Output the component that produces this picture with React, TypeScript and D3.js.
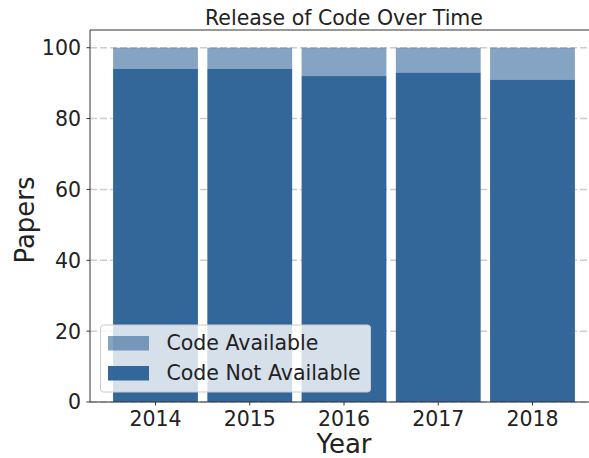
import React, { useRef, useEffect } from 'react';
import * as d3 from 'd3';

const years = ['2014', '2015', '2016', '2017', '2018'];
const codeNotAvailable = [94, 94, 92, 93, 91];
const codeAvailable = [6, 6, 8, 7, 9];
const yTicks = [0, 20, 40, 60, 80, 100];

const DARK = '#336699';
const FONT = 'DejaVu Sans, sans-serif';

const App: React.FC = () => {
  const svgRef = useRef<SVGSVGElement | null>(null);

  useEffect(() => {
    const svg = d3.select(svgRef.current);
    svg.selectAll('*').remove();

    const W = 589;
    const H = 458;
    const left = 90;
    const top = 30;
    const bottom = 402;

    const x = d3.scaleLinear().domain([-0.695, 4.695]).range([left, 598]);
    const y = d3.scaleLinear().domain([0, 105]).range([bottom, top]);
    const barW = x(0.9) - x(0);

    svg.append('rect').attr('width', W).attr('height', H).attr('fill', '#fff');

    // gridlines behind bars
    svg.append('g')
      .selectAll('line')
      .data(yTicks)
      .enter()
      .append('line')
      .attr('x1', left)
      .attr('x2', W)
      .attr('y1', d => y(d))
      .attr('y2', d => y(d))
      .attr('stroke', '#cccccc')
      .attr('stroke-width', 1.5)
      .attr('stroke-dasharray', '7,3');

    // stacked bars
    const bars = svg.append('g');
    bars.selectAll('.na')
      .data(codeNotAvailable)
      .enter()
      .append('rect')
      .attr('x', (_, i) => x(i) - barW / 2)
      .attr('y', d => y(d))
      .attr('width', barW)
      .attr('height', d => y(0) - y(d))
      .attr('fill', DARK);

    bars.selectAll('.av')
      .data(codeAvailable)
      .enter()
      .append('rect')
      .attr('x', (_, i) => x(i) - barW / 2)
      .attr('y', (d, i) => y(codeNotAvailable[i] + d))
      .attr('width', barW)
      .attr('height', (d, i) => y(codeNotAvailable[i]) - y(codeNotAvailable[i] + d))
      .attr('fill', DARK)
      .attr('fill-opacity', 0.6);

    // spines
    const spine = '#333333';
    svg.append('line').attr('x1', left).attr('x2', left).attr('y1', top).attr('y2', bottom)
      .attr('stroke', spine).attr('stroke-width', 1);
    svg.append('line').attr('x1', left).attr('x2', W).attr('y1', top).attr('y2', top)
      .attr('stroke', spine).attr('stroke-width', 1);
    svg.append('line').attr('x1', left).attr('x2', W).attr('y1', bottom).attr('y2', bottom)
      .attr('stroke', spine).attr('stroke-width', 1);

    // y ticks
    const yt = svg.append('g');
    yTicks.forEach(t => {
      yt.append('line').attr('x1', left - 3.5).attr('x2', left).attr('y1', y(t)).attr('y2', y(t))
        .attr('stroke', spine);
      yt.append('text')
        .attr('x', left - 9)
        .attr('y', y(t))
        .attr('dy', '0.36em')
        .attr('text-anchor', 'end')
        .attr('font-family', FONT)
        .attr('font-size', 20.5)
        .attr('fill', '#222')
        .text(t);
    });

    // x ticks
    const xt = svg.append('g');
    years.forEach((yr, i) => {
      xt.append('line').attr('x1', x(i)).attr('x2', x(i)).attr('y1', bottom).attr('y2', bottom + 3.5)
        .attr('stroke', spine);
      xt.append('text')
        .attr('x', x(i))
        .attr('y', 426)
        .attr('text-anchor', 'middle')
        .attr('font-family', FONT)
        .attr('font-size', 20.5)
        .attr('fill', '#222')
        .text(yr);
    });

    // labels
    svg.append('text')
      .attr('x', 344)
      .attr('y', 24.5)
      .attr('text-anchor', 'middle')
      .attr('font-family', FONT)
      .attr('font-size', 20.5)
      .attr('fill', '#222')
      .text('Release of Code Over Time');

    svg.append('text')
      .attr('transform', `translate(34,${(top + bottom) / 2 + 4}) rotate(-90)`)
      .attr('text-anchor', 'middle')
      .attr('font-family', FONT)
      .attr('font-size', 26)
      .attr('fill', '#222')
      .text('Papers');

    svg.append('text')
      .attr('x', 344)
      .attr('y', 453)
      .attr('text-anchor', 'middle')
      .attr('font-family', FONT)
      .attr('font-size', 26)
      .attr('fill', '#222')
      .text('Year');

    // legend
    const lg = svg.append('g');
    lg.append('rect')
      .attr('x', 100.5)
      .attr('y', 325)
      .attr('width', 270)
      .attr('height', 67)
      .attr('rx', 3)
      .attr('fill', '#fff')
      .attr('fill-opacity', 0.8)
      .attr('stroke', '#cccccc')
      .attr('stroke-width', 1);

    const items = [
      { label: 'Code Available', opacity: 0.6 },
      { label: 'Code Not Available', opacity: 1 },
    ];
    items.forEach((it, i) => {
      const yy = 336 + i * 30;
      lg.append('rect')
        .attr('x', 108)
        .attr('y', yy)
        .attr('width', 41)
        .attr('height', 14.5)
        .attr('fill', DARK)
        .attr('fill-opacity', it.opacity);
      lg.append('text')
        .attr('x', 166.5)
        .attr('y', yy + 14)
        .attr('font-family', FONT)
        .attr('font-size', 20.5)
        .attr('fill', '#222')
        .text(it.label);
    });
  }, []);

  return (
    <div style={{ position: 'absolute', left: 0, top: 0 }}>
      <svg ref={svgRef} width={589} height={458} style={{ display: 'block' }}></svg>
    </div>
  );
};

export default App;
